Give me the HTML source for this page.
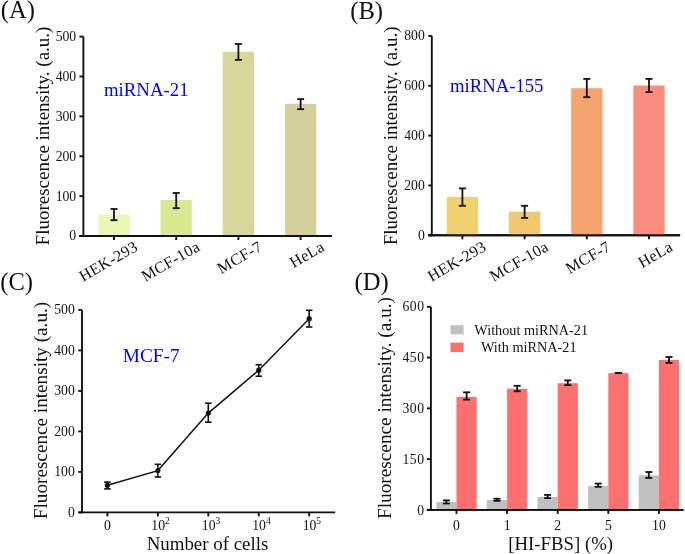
<!DOCTYPE html>
<html><head><meta charset="utf-8"><style>
html,body{margin:0;padding:0;background:#fff;}
svg{display:block;will-change:transform;}
text{font-family:"Liberation Serif",serif;}
</style></head><body>
<svg width="685" height="554" viewBox="0 0 685 554">
<rect width="685" height="554" fill="#fff"/>
<text x="0.8" y="18.3" font-size="24.6" text-anchor="start" fill="#111" >(A)</text>
<line x1="83.4" y1="36.6" x2="83.4" y2="236.95" stroke="#111" stroke-width="1.9"/>
<line x1="79.4" y1="236" x2="331.6" y2="236" stroke="#111" stroke-width="1.9"/>
<line x1="79.4" y1="236" x2="83.4" y2="236" stroke="#111" stroke-width="1.9"/>
<text x="76.2" y="240.4" font-size="13.7" text-anchor="end" fill="#111" >0</text>
<line x1="79.4" y1="196.12" x2="83.4" y2="196.12" stroke="#111" stroke-width="1.9"/>
<text x="76.2" y="200.52" font-size="13.7" text-anchor="end" fill="#111" >100</text>
<line x1="79.4" y1="156.24" x2="83.4" y2="156.24" stroke="#111" stroke-width="1.9"/>
<text x="76.2" y="160.64" font-size="13.7" text-anchor="end" fill="#111" >200</text>
<line x1="79.4" y1="116.36" x2="83.4" y2="116.36" stroke="#111" stroke-width="1.9"/>
<text x="76.2" y="120.76" font-size="13.7" text-anchor="end" fill="#111" >300</text>
<line x1="79.4" y1="76.48" x2="83.4" y2="76.48" stroke="#111" stroke-width="1.9"/>
<text x="76.2" y="80.88" font-size="13.7" text-anchor="end" fill="#111" >400</text>
<line x1="79.4" y1="36.6" x2="83.4" y2="36.6" stroke="#111" stroke-width="1.9"/>
<text x="76.2" y="41" font-size="13.7" text-anchor="end" fill="#111" >500</text>
<rect x="98.35" y="214.8" width="31.3" height="21.2" fill="#e9f9b3"/>
<rect x="160.55" y="200" width="31.3" height="36" fill="#d9e992"/>
<rect x="222.75" y="51.7" width="31.3" height="184.3" fill="#d6d79b"/>
<rect x="284.95" y="103.8" width="31.3" height="132.2" fill="#d3d09b"/>
<line x1="114" y1="209" x2="114" y2="220.2" stroke="#111" stroke-width="1.8"/>
<line x1="110.5" y1="209" x2="117.5" y2="209" stroke="#111" stroke-width="1.8"/>
<line x1="110.5" y1="220.2" x2="117.5" y2="220.2" stroke="#111" stroke-width="1.8"/>
<line x1="176.2" y1="193" x2="176.2" y2="208.2" stroke="#111" stroke-width="1.8"/>
<line x1="172.7" y1="193" x2="179.7" y2="193" stroke="#111" stroke-width="1.8"/>
<line x1="172.7" y1="208.2" x2="179.7" y2="208.2" stroke="#111" stroke-width="1.8"/>
<line x1="238.4" y1="44" x2="238.4" y2="59.9" stroke="#111" stroke-width="1.8"/>
<line x1="234.9" y1="44" x2="241.9" y2="44" stroke="#111" stroke-width="1.8"/>
<line x1="234.9" y1="59.9" x2="241.9" y2="59.9" stroke="#111" stroke-width="1.8"/>
<line x1="300.6" y1="99.1" x2="300.6" y2="109.2" stroke="#111" stroke-width="1.8"/>
<line x1="297.1" y1="99.1" x2="304.1" y2="99.1" stroke="#111" stroke-width="1.8"/>
<line x1="297.1" y1="109.2" x2="304.1" y2="109.2" stroke="#111" stroke-width="1.8"/>
<line x1="79.4" y1="236" x2="331.6" y2="236" stroke="#111" stroke-width="1.9"/>
<line x1="114" y1="236" x2="114" y2="240" stroke="#111" stroke-width="1.9"/>
<line x1="176.2" y1="236" x2="176.2" y2="240" stroke="#111" stroke-width="1.9"/>
<line x1="238.4" y1="236" x2="238.4" y2="240" stroke="#111" stroke-width="1.9"/>
<line x1="300.6" y1="236" x2="300.6" y2="240" stroke="#111" stroke-width="1.9"/>
<text x="0" y="0" font-size="16" text-anchor="end" fill="#111" letter-spacing="0.35" transform="translate(139,249.7) rotate(-30)">HEK-293</text>
<text x="0" y="0" font-size="16" text-anchor="end" fill="#111" letter-spacing="0.35" transform="translate(201.2,249.7) rotate(-30)">MCF-10a</text>
<text x="0" y="0" font-size="16" text-anchor="end" fill="#111" letter-spacing="0.35" transform="translate(263.4,249.7) rotate(-30)">MCF-7</text>
<text x="0" y="0" font-size="16" text-anchor="end" fill="#111" letter-spacing="0.35" transform="translate(325.6,249.7) rotate(-30)">HeLa</text>
<text x="0" y="0" font-size="19" text-anchor="middle" fill="#111" transform="translate(48.9,136) rotate(-90)">Fluorescence intensity. (a.u.)</text>
<text x="104" y="95.5" font-size="18.8" text-anchor="start" fill="#0000ff" >miRNA-21</text>
<text x="350.2" y="18.6" font-size="24.6" text-anchor="start" fill="#111" >(B)</text>
<line x1="431.8" y1="35.9" x2="431.8" y2="236.25" stroke="#111" stroke-width="1.9"/>
<line x1="428.3" y1="235.3" x2="680.1" y2="235.3" stroke="#111" stroke-width="1.9"/>
<line x1="428.3" y1="235.3" x2="431.8" y2="235.3" stroke="#111" stroke-width="1.9"/>
<text x="424.8" y="239.8" font-size="13.7" text-anchor="end" fill="#111" >0</text>
<line x1="428.3" y1="185.45" x2="431.8" y2="185.45" stroke="#111" stroke-width="1.9"/>
<text x="424.8" y="189.95" font-size="13.7" text-anchor="end" fill="#111" >200</text>
<line x1="428.3" y1="135.6" x2="431.8" y2="135.6" stroke="#111" stroke-width="1.9"/>
<text x="424.8" y="140.1" font-size="13.7" text-anchor="end" fill="#111" >400</text>
<line x1="428.3" y1="85.75" x2="431.8" y2="85.75" stroke="#111" stroke-width="1.9"/>
<text x="424.8" y="90.25" font-size="13.7" text-anchor="end" fill="#111" >600</text>
<line x1="428.3" y1="35.9" x2="431.8" y2="35.9" stroke="#111" stroke-width="1.9"/>
<text x="424.8" y="40.4" font-size="13.7" text-anchor="end" fill="#111" >800</text>
<rect x="446.75" y="196.9" width="31.3" height="38.4" fill="#efd26e"/>
<rect x="508.95" y="211.7" width="31.3" height="23.6" fill="#f1c870"/>
<rect x="571.15" y="88.2" width="31.3" height="147.1" fill="#f5a36d"/>
<rect x="633.35" y="85.5" width="31.3" height="149.8" fill="#fb8c80"/>
<line x1="462.4" y1="188.4" x2="462.4" y2="205.8" stroke="#111" stroke-width="1.8"/>
<line x1="458.9" y1="188.4" x2="465.9" y2="188.4" stroke="#111" stroke-width="1.8"/>
<line x1="458.9" y1="205.8" x2="465.9" y2="205.8" stroke="#111" stroke-width="1.8"/>
<line x1="524.6" y1="205.8" x2="524.6" y2="217.9" stroke="#111" stroke-width="1.8"/>
<line x1="521.1" y1="205.8" x2="528.1" y2="205.8" stroke="#111" stroke-width="1.8"/>
<line x1="521.1" y1="217.9" x2="528.1" y2="217.9" stroke="#111" stroke-width="1.8"/>
<line x1="586.8" y1="78.9" x2="586.8" y2="97.2" stroke="#111" stroke-width="1.8"/>
<line x1="583.3" y1="78.9" x2="590.3" y2="78.9" stroke="#111" stroke-width="1.8"/>
<line x1="583.3" y1="97.2" x2="590.3" y2="97.2" stroke="#111" stroke-width="1.8"/>
<line x1="649" y1="78.9" x2="649" y2="92.1" stroke="#111" stroke-width="1.8"/>
<line x1="645.5" y1="78.9" x2="652.5" y2="78.9" stroke="#111" stroke-width="1.8"/>
<line x1="645.5" y1="92.1" x2="652.5" y2="92.1" stroke="#111" stroke-width="1.8"/>
<line x1="428.3" y1="235.3" x2="680.1" y2="235.3" stroke="#111" stroke-width="1.9"/>
<line x1="462.4" y1="235.3" x2="462.4" y2="239.3" stroke="#111" stroke-width="1.9"/>
<line x1="524.6" y1="235.3" x2="524.6" y2="239.3" stroke="#111" stroke-width="1.9"/>
<line x1="586.8" y1="235.3" x2="586.8" y2="239.3" stroke="#111" stroke-width="1.9"/>
<line x1="649" y1="235.3" x2="649" y2="239.3" stroke="#111" stroke-width="1.9"/>
<text x="0" y="0" font-size="16" text-anchor="end" fill="#111" letter-spacing="0.35" transform="translate(487.4,249.7) rotate(-30)">HEK-293</text>
<text x="0" y="0" font-size="16" text-anchor="end" fill="#111" letter-spacing="0.35" transform="translate(549.6,249.7) rotate(-30)">MCF-10a</text>
<text x="0" y="0" font-size="16" text-anchor="end" fill="#111" letter-spacing="0.35" transform="translate(611.8,249.7) rotate(-30)">MCF-7</text>
<text x="0" y="0" font-size="16" text-anchor="end" fill="#111" letter-spacing="0.35" transform="translate(674,249.7) rotate(-30)">HeLa</text>
<text x="0" y="0" font-size="19" text-anchor="middle" fill="#111" transform="translate(397.2,135.85) rotate(-90)">Fluorescence intensity. (a.u.)</text>
<text x="450" y="92.1" font-size="18.7" text-anchor="start" fill="#0000ff" >miRNA-155</text>
<text x="0.2" y="289.9" font-size="24.6" text-anchor="start" fill="#111" >(C)</text>
<line x1="82" y1="309.9" x2="82" y2="513.35" stroke="#111" stroke-width="1.9"/>
<line x1="78.3" y1="512.4" x2="335.2" y2="512.4" stroke="#111" stroke-width="1.9"/>
<line x1="78.3" y1="512.4" x2="82" y2="512.4" stroke="#111" stroke-width="1.9"/>
<text x="74.8" y="516.9" font-size="13.7" text-anchor="end" fill="#111" >0</text>
<line x1="78.3" y1="471.9" x2="82" y2="471.9" stroke="#111" stroke-width="1.9"/>
<text x="74.8" y="476.4" font-size="13.7" text-anchor="end" fill="#111" >100</text>
<line x1="78.3" y1="431.4" x2="82" y2="431.4" stroke="#111" stroke-width="1.9"/>
<text x="74.8" y="435.9" font-size="13.7" text-anchor="end" fill="#111" >200</text>
<line x1="78.3" y1="390.9" x2="82" y2="390.9" stroke="#111" stroke-width="1.9"/>
<text x="74.8" y="395.4" font-size="13.7" text-anchor="end" fill="#111" >300</text>
<line x1="78.3" y1="350.4" x2="82" y2="350.4" stroke="#111" stroke-width="1.9"/>
<text x="74.8" y="354.9" font-size="13.7" text-anchor="end" fill="#111" >400</text>
<line x1="78.3" y1="309.9" x2="82" y2="309.9" stroke="#111" stroke-width="1.9"/>
<text x="74.8" y="314.4" font-size="13.7" text-anchor="end" fill="#111" >500</text>
<polyline points="107.4,485.3 157.85,470.6 208.3,413.1 258.75,370.2 309.2,318.7" fill="none" stroke="#111" stroke-width="1.5"/>
<line x1="107.4" y1="482.1" x2="107.4" y2="488.9" stroke="#111" stroke-width="1.6"/>
<line x1="104.15" y1="482.1" x2="110.65" y2="482.1" stroke="#111" stroke-width="1.6"/>
<line x1="104.15" y1="488.9" x2="110.65" y2="488.9" stroke="#111" stroke-width="1.6"/>
<line x1="157.85" y1="464.3" x2="157.85" y2="477" stroke="#111" stroke-width="1.6"/>
<line x1="154.6" y1="464.3" x2="161.1" y2="464.3" stroke="#111" stroke-width="1.6"/>
<line x1="154.6" y1="477" x2="161.1" y2="477" stroke="#111" stroke-width="1.6"/>
<line x1="208.3" y1="403.2" x2="208.3" y2="422.2" stroke="#111" stroke-width="1.6"/>
<line x1="205.05" y1="403.2" x2="211.55" y2="403.2" stroke="#111" stroke-width="1.6"/>
<line x1="205.05" y1="422.2" x2="211.55" y2="422.2" stroke="#111" stroke-width="1.6"/>
<line x1="258.75" y1="364.7" x2="258.75" y2="376.2" stroke="#111" stroke-width="1.6"/>
<line x1="255.5" y1="364.7" x2="262" y2="364.7" stroke="#111" stroke-width="1.6"/>
<line x1="255.5" y1="376.2" x2="262" y2="376.2" stroke="#111" stroke-width="1.6"/>
<line x1="309.2" y1="310.3" x2="309.2" y2="327" stroke="#111" stroke-width="1.6"/>
<line x1="305.95" y1="310.3" x2="312.45" y2="310.3" stroke="#111" stroke-width="1.6"/>
<line x1="305.95" y1="327" x2="312.45" y2="327" stroke="#111" stroke-width="1.6"/>
<circle cx="107.4" cy="485.3" r="2.6" fill="#111"/>
<circle cx="157.85" cy="470.6" r="2.6" fill="#111"/>
<circle cx="208.3" cy="413.1" r="2.6" fill="#111"/>
<circle cx="258.75" cy="370.2" r="2.6" fill="#111"/>
<circle cx="309.2" cy="318.7" r="2.6" fill="#111"/>
<line x1="107.4" y1="512.4" x2="107.4" y2="516.4" stroke="#111" stroke-width="1.9"/>
<line x1="157.85" y1="512.4" x2="157.85" y2="516.4" stroke="#111" stroke-width="1.9"/>
<line x1="208.3" y1="512.4" x2="208.3" y2="516.4" stroke="#111" stroke-width="1.9"/>
<line x1="258.75" y1="512.4" x2="258.75" y2="516.4" stroke="#111" stroke-width="1.9"/>
<line x1="309.2" y1="512.4" x2="309.2" y2="516.4" stroke="#111" stroke-width="1.9"/>
<text x="107.4" y="529.5" font-size="13.7" text-anchor="middle" fill="#111" >0</text>
<text x="160.55" y="529.5" font-size="13.7" text-anchor="middle" fill="#111">10<tspan font-size="9.5" dy="-5.9">2</tspan></text>
<text x="211" y="529.5" font-size="13.7" text-anchor="middle" fill="#111">10<tspan font-size="9.5" dy="-5.9">3</tspan></text>
<text x="261.45" y="529.5" font-size="13.7" text-anchor="middle" fill="#111">10<tspan font-size="9.5" dy="-5.9">4</tspan></text>
<text x="311.9" y="529.5" font-size="13.7" text-anchor="middle" fill="#111">10<tspan font-size="9.5" dy="-5.9">5</tspan></text>
<text x="207.5" y="550" font-size="18.9" text-anchor="middle" fill="#111" >Number of cells</text>
<text x="0" y="0" font-size="19.2" text-anchor="middle" fill="#111" transform="translate(46.9,410.5) rotate(-90)">Fluorescence intensity (a.u.)</text>
<text x="122.8" y="362.2" font-size="19.3" text-anchor="start" fill="#0000ff" >MCF-7</text>
<text x="354.6" y="289.9" font-size="24.6" text-anchor="start" fill="#111" >(D)</text>
<line x1="430.9" y1="306.8" x2="430.9" y2="510.85" stroke="#111" stroke-width="1.9"/>
<line x1="426.9" y1="509.9" x2="683.5" y2="509.9" stroke="#111" stroke-width="1.9"/>
<line x1="426.9" y1="509.9" x2="430.9" y2="509.9" stroke="#111" stroke-width="1.9"/>
<text x="424.5" y="514.5" font-size="13.7" text-anchor="end" fill="#111" letter-spacing="0.5">0</text>
<line x1="426.9" y1="459.12" x2="430.9" y2="459.12" stroke="#111" stroke-width="1.9"/>
<text x="424.5" y="463.73" font-size="13.7" text-anchor="end" fill="#111" letter-spacing="0.5">150</text>
<line x1="426.9" y1="408.35" x2="430.9" y2="408.35" stroke="#111" stroke-width="1.9"/>
<text x="424.5" y="412.95" font-size="13.7" text-anchor="end" fill="#111" letter-spacing="0.5">300</text>
<line x1="426.9" y1="357.57" x2="430.9" y2="357.57" stroke="#111" stroke-width="1.9"/>
<text x="424.5" y="362.18" font-size="13.7" text-anchor="end" fill="#111" letter-spacing="0.5">450</text>
<line x1="426.9" y1="306.8" x2="430.9" y2="306.8" stroke="#111" stroke-width="1.9"/>
<text x="424.5" y="311.4" font-size="13.7" text-anchor="end" fill="#111" letter-spacing="0.5">600</text>
<rect x="436.3" y="502" width="20.2" height="7.9" fill="#c0c0c0"/>
<rect x="456.5" y="396.9" width="20.2" height="113" fill="#fc7070"/>
<rect x="486.9" y="499.9" width="20.2" height="10" fill="#c0c0c0"/>
<rect x="507.1" y="388.8" width="20.2" height="121.1" fill="#fc7070"/>
<rect x="537.5" y="496.9" width="20.2" height="13" fill="#c0c0c0"/>
<rect x="557.7" y="383.2" width="20.2" height="126.7" fill="#fc7070"/>
<rect x="588.1" y="486" width="20.2" height="23.9" fill="#c0c0c0"/>
<rect x="608.3" y="373.1" width="20.2" height="136.8" fill="#fc7070"/>
<rect x="638.7" y="475.3" width="20.2" height="34.6" fill="#c0c0c0"/>
<rect x="658.9" y="359.9" width="20.2" height="150" fill="#fc7070"/>
<line x1="446.4" y1="500.4" x2="446.4" y2="503.5" stroke="#111" stroke-width="1.8"/>
<line x1="442.9" y1="500.4" x2="449.9" y2="500.4" stroke="#111" stroke-width="1.8"/>
<line x1="442.9" y1="503.5" x2="449.9" y2="503.5" stroke="#111" stroke-width="1.8"/>
<line x1="497" y1="498.7" x2="497" y2="500.8" stroke="#111" stroke-width="1.8"/>
<line x1="493.5" y1="498.7" x2="500.5" y2="498.7" stroke="#111" stroke-width="1.8"/>
<line x1="493.5" y1="500.8" x2="500.5" y2="500.8" stroke="#111" stroke-width="1.8"/>
<line x1="547.6" y1="494.9" x2="547.6" y2="498.1" stroke="#111" stroke-width="1.8"/>
<line x1="544.1" y1="494.9" x2="551.1" y2="494.9" stroke="#111" stroke-width="1.8"/>
<line x1="544.1" y1="498.1" x2="551.1" y2="498.1" stroke="#111" stroke-width="1.8"/>
<line x1="598.2" y1="483.6" x2="598.2" y2="486.8" stroke="#111" stroke-width="1.8"/>
<line x1="594.7" y1="483.6" x2="601.7" y2="483.6" stroke="#111" stroke-width="1.8"/>
<line x1="594.7" y1="486.8" x2="601.7" y2="486.8" stroke="#111" stroke-width="1.8"/>
<line x1="648.8" y1="472" x2="648.8" y2="477.9" stroke="#111" stroke-width="1.8"/>
<line x1="645.3" y1="472" x2="652.3" y2="472" stroke="#111" stroke-width="1.8"/>
<line x1="645.3" y1="477.9" x2="652.3" y2="477.9" stroke="#111" stroke-width="1.8"/>
<line x1="466.6" y1="392.3" x2="466.6" y2="399.6" stroke="#111" stroke-width="1.8"/>
<line x1="463.1" y1="392.3" x2="470.1" y2="392.3" stroke="#111" stroke-width="1.8"/>
<line x1="463.1" y1="399.6" x2="470.1" y2="399.6" stroke="#111" stroke-width="1.8"/>
<line x1="517.2" y1="385.8" x2="517.2" y2="391.3" stroke="#111" stroke-width="1.8"/>
<line x1="513.7" y1="385.8" x2="520.7" y2="385.8" stroke="#111" stroke-width="1.8"/>
<line x1="513.7" y1="391.3" x2="520.7" y2="391.3" stroke="#111" stroke-width="1.8"/>
<line x1="567.8" y1="380.4" x2="567.8" y2="385.1" stroke="#111" stroke-width="1.8"/>
<line x1="564.3" y1="380.4" x2="571.3" y2="380.4" stroke="#111" stroke-width="1.8"/>
<line x1="564.3" y1="385.1" x2="571.3" y2="385.1" stroke="#111" stroke-width="1.8"/>
<line x1="618.4" y1="372.9" x2="618.4" y2="372.9" stroke="#111" stroke-width="1.8"/>
<line x1="614.9" y1="372.9" x2="621.9" y2="372.9" stroke="#111" stroke-width="1.8"/>
<line x1="614.9" y1="372.9" x2="621.9" y2="372.9" stroke="#111" stroke-width="1.8"/>
<line x1="669" y1="357" x2="669" y2="362.9" stroke="#111" stroke-width="1.8"/>
<line x1="665.5" y1="357" x2="672.5" y2="357" stroke="#111" stroke-width="1.8"/>
<line x1="665.5" y1="362.9" x2="672.5" y2="362.9" stroke="#111" stroke-width="1.8"/>
<line x1="426.9" y1="509.9" x2="683.5" y2="509.9" stroke="#111" stroke-width="1.9"/>
<line x1="456.5" y1="509.9" x2="456.5" y2="513.9" stroke="#111" stroke-width="1.9"/>
<line x1="507.1" y1="509.9" x2="507.1" y2="513.9" stroke="#111" stroke-width="1.9"/>
<line x1="557.7" y1="509.9" x2="557.7" y2="513.9" stroke="#111" stroke-width="1.9"/>
<line x1="608.3" y1="509.9" x2="608.3" y2="513.9" stroke="#111" stroke-width="1.9"/>
<line x1="658.9" y1="509.9" x2="658.9" y2="513.9" stroke="#111" stroke-width="1.9"/>
<text x="456.5" y="530.1" font-size="13.7" text-anchor="middle" fill="#111" >0</text>
<text x="507.1" y="530.1" font-size="13.7" text-anchor="middle" fill="#111" >1</text>
<text x="557.7" y="530.1" font-size="13.7" text-anchor="middle" fill="#111" >2</text>
<text x="608.3" y="530.1" font-size="13.7" text-anchor="middle" fill="#111" >5</text>
<text x="658.9" y="530.1" font-size="13.7" text-anchor="middle" fill="#111" >10</text>
<text x="560.7" y="550.1" font-size="18.8" text-anchor="middle" fill="#111" >[HI-FBS] (%)</text>
<text x="0" y="0" font-size="19.3" text-anchor="middle" fill="#111" transform="translate(390.6,408.05) rotate(-90)">Fluorescence intensity. (a.u.)</text>
<rect x="450.5" y="325.2" width="13.1" height="9.2" fill="#c0c0c0"/>
<rect x="450.5" y="342.7" width="13.1" height="9.3" fill="#fc7070"/>
<text x="474.3" y="334.6" font-size="14.25" text-anchor="start" fill="#111" >Without miRNA-21</text>
<text x="480.9" y="352.2" font-size="14.25" text-anchor="start" fill="#111" >With miRNA-21</text>
</svg>
</body></html>
